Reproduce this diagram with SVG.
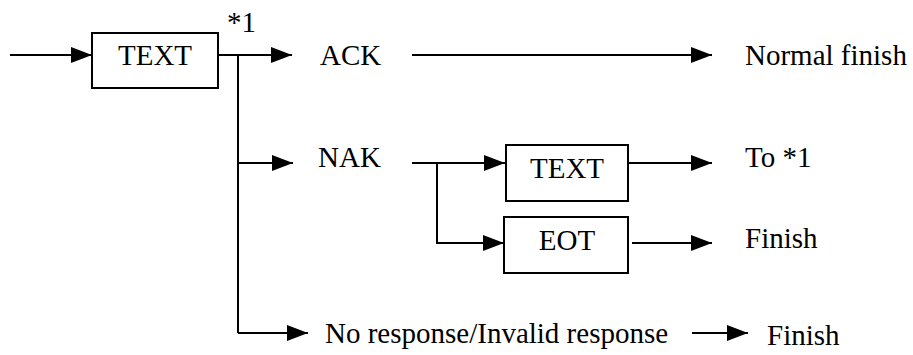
<svg xmlns="http://www.w3.org/2000/svg" width="913" height="355" viewBox="0 0 913 355">
<style>
text{font-family:'Liberation Serif',serif;font-size:29px;fill:#000}
.box{fill:#fff;stroke:#000;stroke-width:2}
.ln{fill:none;stroke:#000;stroke-width:2}
</style>
<defs>
<marker id="ah" markerUnits="userSpaceOnUse" markerWidth="21" markerHeight="16" refX="21" refY="8" orient="auto" viewBox="0 0 21 16">
<path d="M0,0 L21,8 L0,16 z" fill="#000"/>
</marker>
</defs>
<rect width="913" height="355" fill="#fff"/>
<g id="connectors">
<path class="ln" d="M10,55 H92" marker-end="url(#ah)"/>
<path class="ln" d="M218,55 H292" marker-end="url(#ah)"/>
<path class="ln" d="M238,55 V333"/>
<path class="ln" d="M238,163 H293" marker-end="url(#ah)"/>
<path class="ln" d="M238,333 H308" marker-end="url(#ah)"/>
<path class="ln" d="M412,55 H712" marker-end="url(#ah)"/>
<path class="ln" d="M412,163 H505" marker-end="url(#ah)"/>
<path class="ln" d="M437,163 V243 H504" marker-end="url(#ah)"/>
<path class="ln" d="M628,163 H712" marker-end="url(#ah)"/>
<path class="ln" d="M632,243 H712" marker-end="url(#ah)"/>
<path class="ln" d="M692,333 H748" marker-end="url(#ah)"/>
</g>
<g id="text1">
<rect class="box" x="92" y="33" width="126" height="55"/>
<text x="155" y="65" text-anchor="middle">TEXT</text>
</g>
<g id="star1"><text x="227" y="32">*1</text></g>
<g id="ack"><text x="320" y="65">ACK</text></g>
<g id="normal-finish"><text x="745" y="65">Normal finish</text></g>
<g id="nak"><text x="318" y="167">NAK</text></g>
<g id="text2">
<rect class="box" x="506" y="145" width="122" height="56"/>
<text x="567" y="178" text-anchor="middle">TEXT</text>
</g>
<g id="to1"><text x="745" y="167">To *1</text></g>
<g id="eot">
<rect class="box" x="504" y="217" width="124" height="56"/>
<text x="567" y="250" text-anchor="middle">EOT</text>
</g>
<g id="finish1"><text x="745" y="248">Finish</text></g>
<g id="noresp"><text x="325" y="343">No response/Invalid response</text></g>
<g id="finish2"><text x="767" y="345">Finish</text></g>
</svg>
